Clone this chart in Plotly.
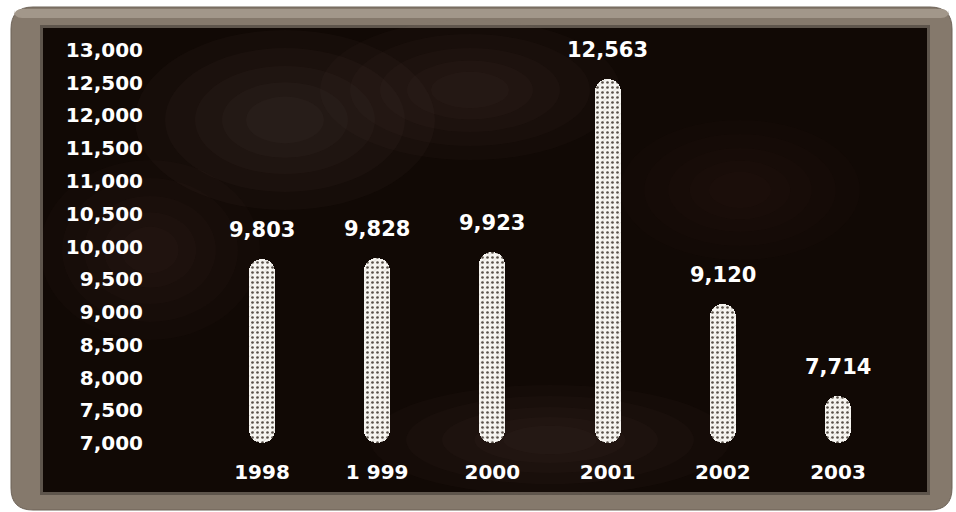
import plotly.graph_objects as go

# ---- data ----
years = ["1998", "1999", "2000", "2001", "2002", "2003"]
year_labels = ["1998", "1 999", "2000", "2001", "2002", "2003"]
values = [9803, 9828, 9923, 12563, 9120, 7714]
y_ticks = list(range(7000, 13001, 500))
base_value = 7000

# ---- layout geometry ----
W, H = 956, 512
ML, MR, MT, MB = 150, 26, 30, 60
PW, PH = W - ML - MR, H - MT - MB


def px(x):
    return (x - ML) / PW


def py(y):
    return (H - MB - y) / PH


def rrect(x0, y0, x1, y1, r):
    return (
        f"M {px(x0 + r)},{py(y0)} L {px(x1 - r)},{py(y0)} "
        f"Q {px(x1)},{py(y0)} {px(x1)},{py(y0 + r)} "
        f"L {px(x1)},{py(y1 - r)} Q {px(x1)},{py(y1)} {px(x1 - r)},{py(y1)} "
        f"L {px(x0 + r)},{py(y1)} Q {px(x0)},{py(y1)} {px(x0)},{py(y1 - r)} "
        f"L {px(x0)},{py(y0 + r)} Q {px(x0)},{py(y0)} {px(x0 + r)},{py(y0)} Z"
    )


heights = [v - base_value for v in values]
bar_w = 0.226

fig = go.Figure()
fig.add_trace(go.Bar(
    x=years, y=heights, base=base_value, width=bar_w,
    marker=dict(color="#f6f4f0", cornerradius="50%", line=dict(width=0),
                pattern=dict(shape=".", fgcolor="#5a524a", bgcolor="#f7f5f1", size=5,
                             solidity=0.22, fillmode="replace")),
    hoverinfo="skip", showlegend=False))
fig.add_trace(go.Bar(
    x=years, y=heights, base=base_value, width=bar_w,
    marker=dict(color="rgba(0,0,0,0)", cornerradius="50%", line=dict(width=0),
                pattern=dict(shape="/", fgcolor="rgba(70,62,55,0.35)", size=7,
                             solidity=0.12, fillmode="overlay")),
    hoverinfo="skip", showlegend=False))

annotations = [
    dict(x=i, y=v, xref="x", yref="y", text=f"{v:,}", showarrow=False,
         yanchor="middle", yshift=29,
         font=dict(family="DejaVu Sans", size=21, color="white", weight="bold"))
    for i, v in enumerate(values)
]

shapes = [
    # frame
    dict(type="path", xref="paper", yref="paper", path=rrect(11, 7, 952, 510, 22),
         fillcolor="#85796c", line=dict(color="#6d6257", width=1), layer="below"),
    dict(type="path", xref="paper", yref="paper", path=rrect(14, 9, 949, 18, 8),
         fillcolor="#a2978a", line=dict(width=0), layer="below"),
    # board
    dict(type="rect", xref="paper", yref="paper", x0=px(40), x1=px(930), y0=py(25), y1=py(495),
         fillcolor="#5e554c", line=dict(width=0), layer="below"),
    dict(type="rect", xref="paper", yref="paper", x0=px(43), x1=px(927), y0=py(28), y1=py(492),
         fillcolor="#110905", line=dict(width=0), layer="below"),
]
# soft chalk smudges (stacked translucent ellipses)
smudges = [(285, 120, 150, 90, 0.04), (470, 90, 150, 70, 0.03), (150, 250, 110, 90, 0.025),
           (550, 440, 180, 55, 0.03), (740, 190, 120, 70, 0.015)]
for cx, cy, rx, ry, op in smudges:
    for k in (1.0, 0.8, 0.6, 0.42, 0.26):
        shapes.append(dict(type="circle", xref="paper", yref="paper",
                           x0=px(cx - rx * k), x1=px(cx + rx * k),
                           y0=py(cy - ry * k), y1=py(cy + ry * k),
                           fillcolor="#a08c7a", opacity=op,
                           line=dict(width=0), layer="below"))

fig.update_layout(
    width=W, height=H, margin=dict(l=ML, r=MR, t=MT, b=MB),
    paper_bgcolor="white", plot_bgcolor="rgba(0,0,0,0)",
    barmode="overlay", bargap=0, showlegend=False,
    shapes=shapes, annotations=annotations,
    xaxis=dict(type="category", range=[-0.972, 5.799], tickvals=years, ticktext=year_labels,
               showgrid=False, zeroline=False, showline=False, ticks="",
               ticklabelstandoff=6,
               tickfont=dict(family="DejaVu Sans", size=20, color="white", weight="bold")),
    yaxis=dict(range=[6863, 13305], tickvals=y_ticks, tickformat=",",
               showgrid=False, zeroline=False, showline=False, ticks="",
               ticklabelstandoff=6,
               tickfont=dict(family="DejaVu Sans", size=20, color="white", weight="bold")),
)

fig.write_html("out.html")
